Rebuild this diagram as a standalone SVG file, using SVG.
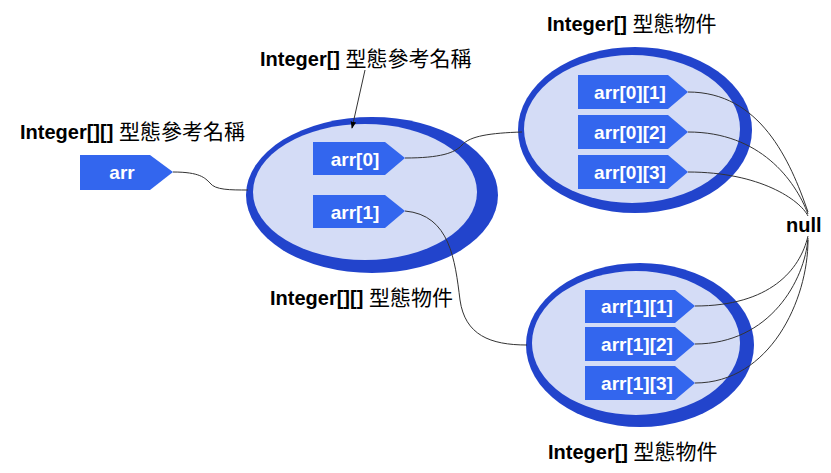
<svg xmlns="http://www.w3.org/2000/svg" width="831" height="473" viewBox="0 0 831 473">
<defs>
<marker id="ah" viewBox="0 0 10 10" refX="9" refY="5" markerWidth="7" markerHeight="7" orient="auto"><path d="M0,1 L10,5 L0,9 z" fill="#000"/></marker>
<style>
.lbl{font-family:"Liberation Sans","Noto Sans CJK TC",sans-serif;font-size:20px;font-weight:bold;fill:#000}
.cjk{font-family:"Noto Sans CJK TC",sans-serif;font-weight:normal;font-size:21px}
.box{fill:#3366ee}
.bt{font-family:"Liberation Sans",sans-serif;font-size:19px;font-weight:bold;fill:#fff;text-anchor:middle}
.ring{fill:#2244cc}
.in{fill:#d4dcf6}
.c{fill:none;stroke:#333;stroke-width:1}
</style>
</defs>
<rect width="831" height="473" fill="#fff"/>
<g id="obj1"><ellipse class="ring" cx="372" cy="195" rx="126" ry="78"/><ellipse class="in" cx="365" cy="192" rx="112" ry="68"/></g>
<g id="obj2"><ellipse class="ring" cx="635" cy="130" rx="117" ry="83"/><ellipse class="in" cx="632" cy="129" rx="108" ry="74"/></g>
<g id="obj3"><ellipse class="ring" cx="640" cy="345" rx="114" ry="82"/><ellipse class="in" cx="636" cy="343" rx="104" ry="72"/></g>
<g id="connectors">
<path class="c" d="M173,172 C200,172 205,178 210,183 C215,190 230,190 248,190"/>
<path class="c" d="M405,158 C440,158 455,153 462,145 C470,136 490,133 522,132"/>
<path class="c" d="M405,211 C450,215 455,260 460,300 C465,335 490,345 527,345"/>
<path class="c" d="M688,92 C760,92 790,160 808,212"/>
<path class="c" d="M688,132 C760,132 795,180 808,214"/>
<path class="c" d="M688,172 C760,172 800,200 808,216"/>
<path class="c" d="M695,306 C770,306 800,270 808,236"/>
<path class="c" d="M695,344 C770,344 805,280 808,238"/>
<path class="c" d="M695,383 C770,383 808,300 808,240"/>
<path class="c" d="M365,70 L352,128" marker-end="url(#ah)"/>
</g>
<g id="arr"><path class="box" d="M80,155 H150 L173,172 L150,190 H80 Z"/><text class="bt" x="122" y="179">arr</text></g>
<g id="arr0"><path class="box" d="M313,142 H385 L405,158 L385,175 H313 Z"/><text class="bt" x="355" y="166">arr[0]</text></g>
<g id="arr1"><path class="box" d="M313,195 H385 L405,211 L385,228 H313 Z"/><text class="bt" x="355" y="219">arr[1]</text></g>
<g id="arr01"><path class="box" d="M578,75 H668 L688,92 L668,109 H578 Z"/><text class="bt" x="630" y="99">arr[0][1]</text></g>
<g id="arr02"><path class="box" d="M578,115 H668 L688,132 L668,149 H578 Z"/><text class="bt" x="630" y="139">arr[0][2]</text></g>
<g id="arr03"><path class="box" d="M578,155 H668 L688,172 L668,189 H578 Z"/><text class="bt" x="630" y="179">arr[0][3]</text></g>
<g id="arr11"><path class="box" d="M585,290 H675 L695,306 L675,323 H585 Z"/><text class="bt" x="637" y="313">arr[1][1]</text></g>
<g id="arr12"><path class="box" d="M585,327 H675 L695,344 L675,361 H585 Z"/><text class="bt" x="637" y="351">arr[1][2]</text></g>
<g id="arr13"><path class="box" d="M585,366 H675 L695,383 L675,400 H585 Z"/><text class="bt" x="637" y="390">arr[1][3]</text></g>
<g id="null"><text class="lbl" x="786" y="232">null</text></g>
<g id="labels">
<text class="lbl" x="20" y="139">Integer[][] <tspan class="cjk">型態參考名稱</tspan></text>
<text class="lbl" x="260" y="66">Integer[] <tspan class="cjk">型態參考名稱</tspan></text>
<text class="lbl" x="547" y="31">Integer[] <tspan class="cjk">型態物件</tspan></text>
<text class="lbl" x="270" y="305">Integer[][] <tspan class="cjk">型態物件</tspan></text>
<text class="lbl" x="548" y="459">Integer[] <tspan class="cjk">型態物件</tspan></text>
</g>
</svg>
